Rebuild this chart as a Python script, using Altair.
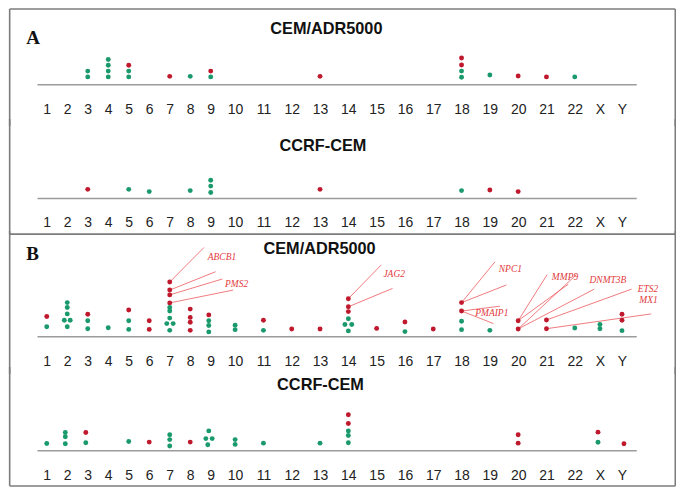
import altair as alt
import pandas as pd

# ---------------- data ----------------
chromosomes = [str(i) for i in range(1, 23)] + ["X", "Y"]

# Panel A, CEM/ADR5000
a1_chrom = ["3", "3", "4", "4", "4", "4", "5", "5", "5", "7", "8", "9", "9", "13",
            "18", "18", "18", "18", "19", "20", "21", "22"]
a1_status = ["down", "down", "down", "down", "down", "down", "up", "down", "down", "up", "down",
             "up", "down", "up", "up", "up", "down", "down", "down", "up", "up", "down"]
a1_level = [13.7, 7.7, 25.7, 19.7, 13.7, 7.7, 19.7, 13.7, 7.7, 8.3, 8.3, 13.7, 7.7, 8.3,
            27.3, 20, 13.7, 7.3, 9.7, 8.7, 7.7, 7.7]
a1_shift = [0] * 22

# Panel A, CCRF-CEM
a2_chrom = ["3", "5", "6", "8", "9", "9", "9", "13", "18", "19", "20"]
a2_status = ["up", "down", "down", "down", "down", "down", "down", "up", "down", "up", "up"]
a2_level = [9, 9, 6.7, 7.7, 18.4, 12.4, 5.7, 9, 7.7, 8.4, 6.7]
a2_shift = [0] * 11

# Panel B, CEM/ADR5000
b1_chrom = ["1", "1",
            "2", "2", "2", "2", "2", "2",
            "3", "3", "3",
            "4",
            "5", "5", "5",
            "6", "6",
            "7", "7", "7", "7", "7", "7", "7", "7", "7", "7",
            "8", "8", "8", "8",
            "9", "9", "9", "9",
            "10", "10",
            "11", "11",
            "12", "13",
            "14", "14", "14", "14", "14", "14", "14",
            "15", "16", "16", "17",
            "18", "18", "18", "18",
            "19", "20", "20", "21", "21", "22",
            "X", "X", "Y", "Y", "Y"]
b1_status = ["up", "down",
             "down", "down", "down", "down", "down", "down",
             "up", "down", "down",
             "down",
             "up", "down", "down",
             "up", "up",
             "up", "up", "up", "up", "down", "down", "down", "down", "down", "down",
             "up", "up", "up", "up",
             "up", "down", "down", "down",
             "down", "down",
             "up", "down",
             "up", "up",
             "up", "up", "up", "down", "down", "down", "down",
             "up", "up", "down", "up",
             "up", "up", "down", "down",
             "down", "up", "up", "up", "up", "down",
             "down", "down", "up", "up", "down"]
b1_level = [20.4, 9.7,
            34.7, 29.7, 23, 16.4, 16.4, 9.7,
            22.7, 16, 7.7,
            8.7,
            27, 16, 7,
            16, 7,
            56, 47.7, 42.7, 34.4, 29.7, 26, 18.7, 13, 13, 6,
            28, 19.4, 14.4, 6,
            22, 16, 11, 4.4,
            11.4, 6.7,
            16.4, 6,
            7.4, 7.4,
            38.7, 30.4, 25.4, 18, 12, 12, 5.4,
            8, 14.7, 4.7, 7.4,
            34.7, 26, 15.4, 6.7,
            6, 16, 7.4, 16.7, 7.7, 8.4,
            12, 7.7, 22.7, 16.4, 5.7]
b1_shift = [0, 0,
            0, 0, 0, -3, 3, 0,
            0, 0, 0,
            0,
            0, 0, 0,
            0, 0,
            0, 0, 0, 0, 0, 0, 0, -3, 3.5, 0,
            0, 0, 0, 0,
            -2, -2, -2, -2,
            0, 0,
            0, 0,
            0, 0,
            0, 0, 0, 0, -3.5, 3.5, 0,
            0, 0, 0, 0,
            0, 0, 0, 0,
            0, 0, 0, 0, 0, 0,
            0, 0, 0, 0, 0]

# Panel B, CCRF-CEM
b2_chrom = ["1", "2", "2", "2", "3", "3", "5", "6", "7", "7", "7", "8", "9", "9", "9", "9",
            "10", "10", "11", "13", "14", "14", "14", "14", "14", "20", "20", "X", "X", "Y"]
b2_status = ["down", "down", "down", "down", "up", "down", "down", "up", "down", "down", "down",
             "up", "down", "down", "down", "down", "down", "down", "down", "down",
             "up", "up", "down", "down", "down", "up", "up", "up", "down", "up"]
b2_level = [7, 18.4, 14, 6.7, 18.4, 7.7, 9, 8.4, 16, 11, 4.3, 8.4, 20, 12, 12, 5.7,
            11, 6, 7.3, 7.3, 36.7, 27.7, 20, 15.3, 7.7, 16, 7.3, 18.7, 8.3, 6.7]
b2_shift = [0, -2, -2, -2, -2, -2, 0, 0, 0, 0, 0, 0, -2, -5, 1.5, -3,
            0, 0, 0, 0, 0, 0, 0, 0, 0, 0, 0, -2, -2, 2]

# gene annotations in panel B (CEM/ADR5000)
gene_names = ["ABCB1", "PMS2", "JAG2", "NPC1", "PMAIP1", "MMP9", "DNMT3B", "ETS2", "MX1"]
gene_label_x = [218.5, 233.5, 395, 514, 495, 570, 614, 655, 655.5]
gene_label_level = [82, 53.7, 64.4, 69.7, 23.7, 61, 57.7, 48.7, 37]

leader_chrom = ["7", "7", "7", "7", "14", "14", "18", "18", "18", "18",
                "20", "20", "20", "20", "21", "21"]
leader_from_level = [56, 47.7, 42.7, 34.4, 38.7, 30.4, 34.7, 34.7, 26, 26,
                     16, 16, 7.4, 7.4, 16.7, 7.7]
leader_to_x = [200, 212, 219, 230, 381.7, 393.3, 498.3, 510, 503.3, 496.7,
               551.7, 573.3, 581.7, 600, 638.3, 658.3]
leader_to_level = [91.7, 66.7, 59.2, 47.7, 73.7, 49.4, 77, 53, 31, 13,
                   63.7, 53.7, 63.7, 48.7, 48.7, 23]

# ---------------- layout helpers ----------------
SX, SY = 0.976, 0.966
BASE_X0, BASE_X1 = 29, 643
FRAME_X0, FRAME_X1 = 1, 683
RED, GREEN = "#c0182c", "#1a9a6c"
JOIN = 4  # side frame lines overlap the neighbouring panel so they join up


def chrom_positions(labels):
    # the original sets the chromosome numbers as typed text, so spacing follows label width
    def w(s):
        return sum(9.6 if ch.isalpha() else 8.0 for ch in s)
    out, p = [], 39.0
    for i, s in enumerate(labels):
        if i:
            p += w(labels[i - 1]) / 2 + 13.0 + w(s) / 2
        out.append(round(p, 1))
    return out


POS_LIST = chrom_positions(chromosomes)
POS = dict(zip(chromosomes, POS_LIST))
labels_js = "[" + ",".join("'%s'" % c for c in chromosomes) + "]"
pos_js = "[" + ",".join(repr(p) for p in POS_LIST) + "]"
LABEL_EXPR = "%s[indexof(%s, datum.value)]" % (labels_js, pos_js)


def panel(chrom, status, level, shift, title, title_x, title_level, top, bottom,
          label_pad, frame_top, frame_bottom, letter=None, letter_level=None,
          annotate=False):
    assert len(chrom) == len(status) == len(level) == len(shift)
    W = (BASE_X1 - BASE_X0) * SX
    H = (top - bottom) * SY
    xs = alt.Scale(domain=[BASE_X0, BASE_X1], nice=False, zero=False)
    ys = alt.Scale(domain=[bottom, top], nice=False, zero=False)
    axis = alt.Axis(values=POS_LIST, labelExpr=LABEL_EXPR, ticks=False, tickSize=0,
                    grid=False, domainColor="#9c9c9c", domainWidth=1.5,
                    offset=bottom * SY,
                    labelFont="Liberation Sans", labelFontSize=14, labelColor="#222222",
                    labelPadding=label_pad * SY, labelOverlap=False, labelFlush=False,
                    labelBound=False)

    def X(f):
        return alt.X(f, type="quantitative", scale=xs, axis=axis, title=None)

    def Y(f):
        return alt.Y(f, type="quantitative", scale=ys, axis=None, title=None)

    layers = []
    # frame
    s_top = top if frame_top else top + JOIN
    s_bot = bottom if frame_bottom else bottom - JOIN
    fr = [dict(x=FRAME_X0, x2=FRAME_X0, h=s_top, h2=s_bot),
          dict(x=FRAME_X1, x2=FRAME_X1, h=s_top, h2=s_bot)]
    if frame_top:
        fr.append(dict(x=FRAME_X0, x2=FRAME_X1, h=top, h2=top))
    if frame_bottom:
        fr.append(dict(x=FRAME_X0, x2=FRAME_X1, h=bottom, h2=bottom))
    layers.append(alt.Chart(pd.DataFrame(fr)).mark_rule(color="#7c7c7c", strokeWidth=1.6)
                  .encode(x=X("x"), x2=alt.X2("x2"), y=Y("h"), y2=alt.Y2("h2")))

    if annotate:
        ld = pd.DataFrame({"x": [POS[c] for c in leader_chrom], "h": leader_from_level,
                           "x2": leader_to_x, "h2": leader_to_level})
        layers.append(alt.Chart(ld).mark_rule(color="#ec5a5e", strokeWidth=0.8)
                      .encode(x=X("x"), x2=alt.X2("x2"), y=Y("h"), y2=alt.Y2("h2")))

    dots = pd.DataFrame({"chrom": chrom, "status": status, "h": level,
                         "x": [POS[c] + s for c, s in zip(chrom, shift)]})
    layers.append(alt.Chart(dots).mark_circle(size=24, opacity=1).encode(
        x=X("x"), y=Y("h"),
        color=alt.Color("status:N", scale=alt.Scale(domain=["up", "down"], range=[RED, GREEN]),
                        legend=None)))

    if annotate:
        gd = pd.DataFrame({"gene": gene_names, "x": gene_label_x, "h": gene_label_level})
        layers.append(alt.Chart(gd).mark_text(font="Liberation Serif", fontStyle="italic",
                                              fontSize=9.5, color="#e23a40", align="center",
                                              baseline="middle")
                      .encode(x=X("x"), y=Y("h"), text="gene:N"))

    td = pd.DataFrame({"t": [title], "x": [title_x], "h": [title_level]})
    layers.append(alt.Chart(td).mark_text(font="Liberation Sans", fontWeight="bold",
                                          fontSize=16.3, color="#111111", align="center",
                                          baseline="middle")
                  .encode(x=X("x"), y=Y("h"), text="t:N"))
    if letter:
        lt = pd.DataFrame({"t": [letter], "x": [18], "h": [letter_level]})
        layers.append(alt.Chart(lt).mark_text(font="Liberation Serif", fontWeight="bold",
                                              fontSize=19, color="#111111", align="left",
                                              baseline="middle")
                      .encode(x=X("x"), y=Y("h"), text="t:N"))
    return alt.layer(*layers).properties(width=W, height=H)


p1 = panel(a1_chrom, a1_status, a1_level, a1_shift, "CEM/ADR5000", 325.5, 57,
           top=78, bottom=-39, label_pad=19.3, frame_top=True, frame_bottom=False,
           letter="A", letter_level=48)
p2 = panel(a2_chrom, a2_status, a2_level, a2_shift, "CCRF-CEM", 322, 53.7,
           top=77.7, bottom=-37.3, label_pad=17.6, frame_top=False, frame_bottom=True)
p3 = panel(b1_chrom, b1_status, b1_level, b1_shift, "CEM/ADR5000", 318.5, 90.7,
           top=104.7, bottom=-35.3, label_pad=19, frame_top=False, frame_bottom=False,
           letter="B", letter_level=85.2, annotate=True)
p4 = panel(b2_chrom, b2_status, b2_level, b2_shift, "CCRF-CEM", 319.5, 67.7,
           top=82, bottom=-37, label_pad=18.7, frame_top=False, frame_bottom=True)

chart = (alt.vconcat(p1, p2, p3, p4, spacing=0, bounds="flush")
         .properties(padding=0, background="white")
         .configure_view(strokeWidth=0))

chart.save("out.html", embed_options={"renderer": "svg", "actions": False})
